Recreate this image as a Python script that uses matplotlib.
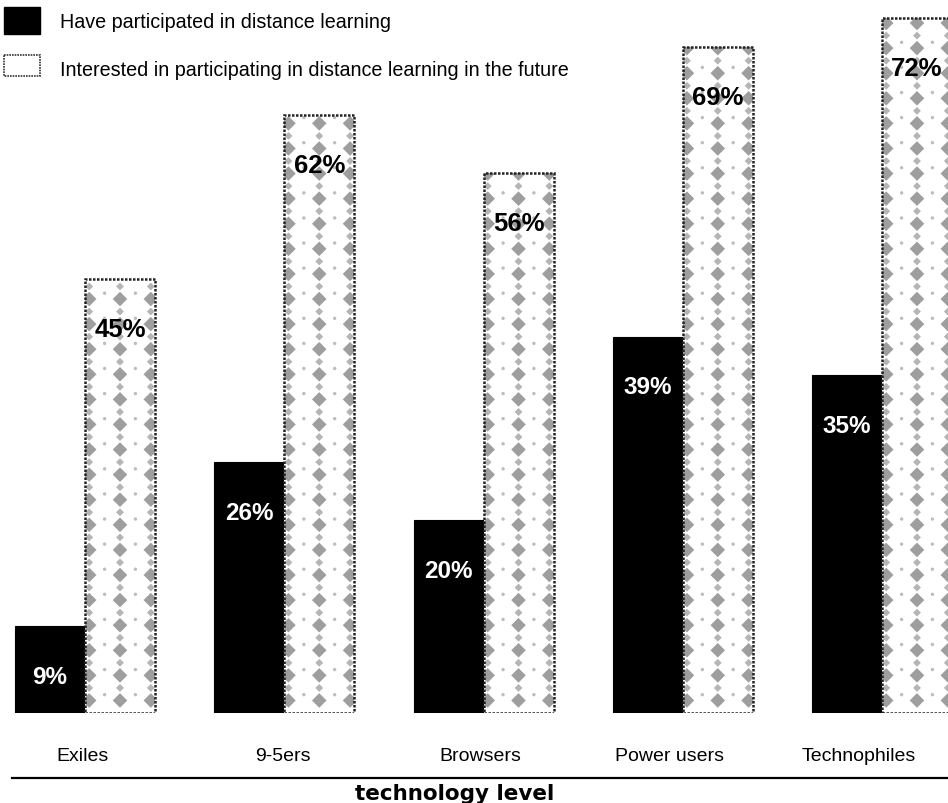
import numpy as np
import matplotlib
matplotlib.use("Agg")
import matplotlib.pyplot as plt
from matplotlib.patches import Rectangle

plt.rcParams['font.family'] = ['Liberation Sans', 'DejaVu Sans']

categories = ["Exiles", "9-5ers", "Browsers", "Power users", "Technophiles"]
participated = [9, 26, 20, 39, 35]
interested = [45, 62, 56, 69, 72]
legend_labels = ["Have participated in distance learning",
                 "Interested in participating in distance learning in the future"]
axis_title = "technology level"

W, H = 948, 804
fig = plt.figure(figsize=(W / 100, H / 100), dpi=100)

# bar axes: x unit = one group (~199 px), y 0 at px 714
PX_PER_UNIT = 199.25
X0_PX = 85.0
ax = fig.add_axes([0, 90 / H, 1, 714 / H])
ax.set_xlim(-X0_PX / PX_PER_UNIT, (W - X0_PX) / PX_PER_UNIT)
ax.set_ylim(0, 714 / 9.65)
ax.axis("off")

bw = 70 / PX_PER_UNIT
x = np.arange(len(categories))

ax.bar(x - bw / 2, participated, width=bw, color="black", edgecolor="black", lw=0.8)
open_bars = ax.bar(x + bw / 2, interested, width=bw, color="none",
                   edgecolor="#222222", lw=1.8, linestyle=(0, (1, 0.6)), zorder=4)
# white fill underneath so the texture sits between fill and border
fills = ax.bar(x + bw / 2, interested, width=bw, color="white", lw=0, zorder=1)

# gray diamond texture inside the open bars, clipped to each bar
for b in fills:
    x_left = b.get_x()
    top = b.get_height()
    cols = x_left + bw * np.array([0.06, 0.5, 0.94])
    rows = np.arange(1.3, top, 2.6)
    xx, yy = np.meshgrid(cols, rows)
    layers = [
        (xx, yy, "D", 55, "#9e9e9e"),
        (xx, yy + 1.3, "D", 16, "#b5b5b5"),
        (xx + bw * 0.22, yy + 0.6, "o", 6, "#bdbdbd"),
    ]
    for lx, ly, m, s, c in layers:
        sc = ax.scatter(lx.ravel(), ly.ravel(), marker=m, s=s, color=c,
                        edgecolors="none", zorder=2)
        sc.set_clip_path(b)

off = 50 / 9.65
for i in range(len(categories)):
    ax.text(x[i] - bw / 2, participated[i] - off, f"{participated[i]}%",
            color="white", fontsize=17.5, fontweight="bold",
            ha="center", va="center", zorder=5)
    ax.text(x[i] + bw / 2, interested[i] - off, f"{interested[i]}%",
            color="black", fontsize=18.5, fontweight="bold",
            ha="center", va="center", zorder=5)

# overlay in pixel coordinates for legend, baseline and labels
ov = fig.add_axes([0, 0, 1, 1], zorder=-1)
ov.set_xlim(0, W)
ov.set_ylim(H, 0)
ov.axis("off")

ov.add_patch(Rectangle((4, 8), 36, 27, facecolor="black", edgecolor="black"))
ov.add_patch(Rectangle((4, 56), 36, 21, facecolor="white", edgecolor="#333333",
                       lw=1.2, linestyle=(0, (1, 0.6))))
ov.text(60, 22, legend_labels[0], fontsize=14.2, va="center", ha="left")
ov.text(60, 71, legend_labels[1], fontsize=14.2, va="center", ha="left")

label_px = [83, 283, 480, 670, 859]
for lp, c in zip(label_px, categories):
    ov.text(lp, 757, c, fontsize=14, ha="center", va="center")

ov.plot([12, W], [779, 779], color="black", lw=1.6)
ov.text(455, 794, axis_title, fontsize=15.5, fontweight="bold",
        ha="center", va="center", family=["DejaVu Sans"])

fig.savefig("out.png", dpi=100)
